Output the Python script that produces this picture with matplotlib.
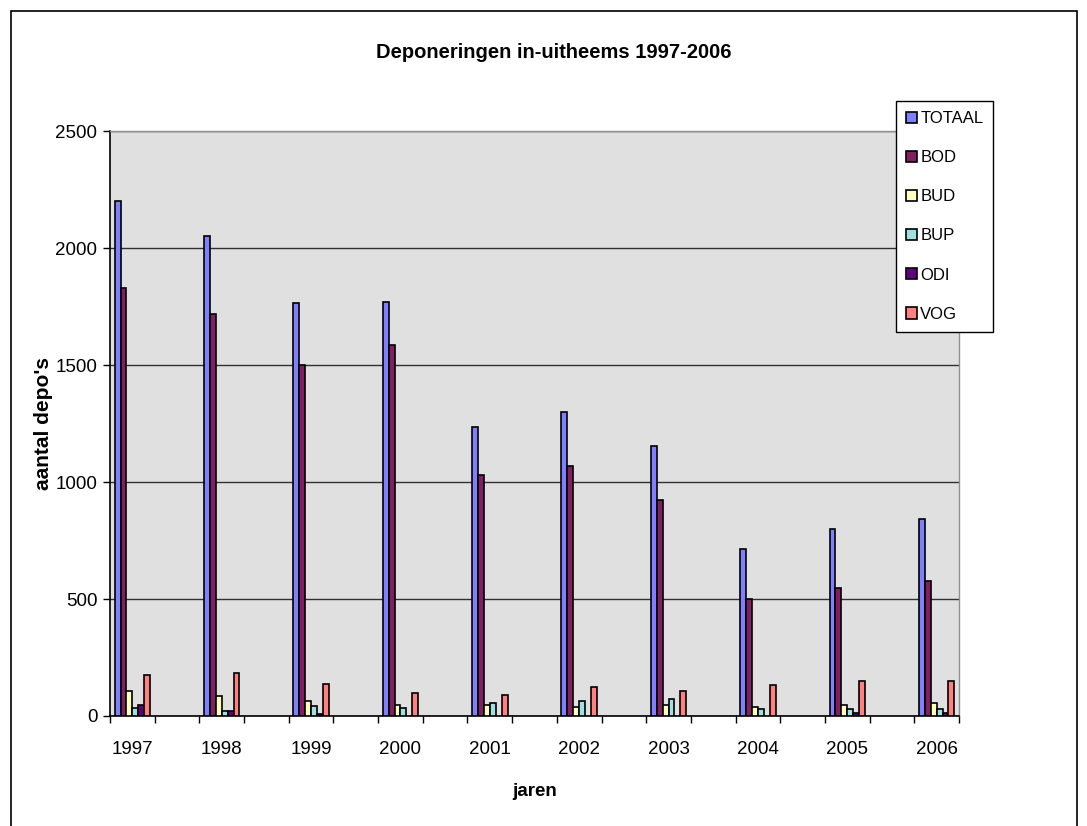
import numpy as np
import matplotlib
matplotlib.use("Agg")
import matplotlib.pyplot as plt
from matplotlib.patches import Rectangle

plt.rcParams['font.family'] = ['Liberation Sans', 'DejaVu Sans']

# data
years = ['1997', '1998', '1999', '2000', '2001', '2002', '2003', '2004', '2005', '2006']
series = ['TOTAAL', 'BOD', 'BUD', 'BUP', 'ODI', 'VOG']
totaal = [2200, 2050, 1765, 1770, 1235, 1300, 1155, 715, 800, 840]
bod = [1830, 1720, 1500, 1585, 1030, 1070, 925, 500, 545, 578]
bud = [108, 84, 65, 48, 48, 40, 48, 40, 48, 57]
bup = [33, 23, 41, 33, 57, 65, 74, 31, 31, 31]
odi = [48, 23, 8, 0, 0, 0, 0, 0, 13, 14]
vog = [176, 185, 135, 100, 91, 125, 108, 134, 151, 151]
colors = ['#8080FF', '#802060', '#FFFFC0', '#A0E0E0', '#600080', '#FF8080']

values = [totaal, bod, bud, bup, odi, vog]

fig = plt.figure(figsize=(10.87, 8.26), dpi=100)
ax = fig.add_axes([110/1087, 1-716/826, (959-110)/1087, (716-131)/826])
ax.set_facecolor('#E0E0E0')

# every year sits on every other slot (empty slot in between)
pos = np.arange(len(years)) * 2
bw = 0.132
for i, (name, vals, c) in enumerate(zip(series, values, colors)):
    v = np.array(vals, dtype=float)
    v[v == 0] = np.nan
    ax.bar(pos + (i - 2.5) * bw, v, bw, color=c, edgecolor='black',
           linewidth=1.2, label=name, zorder=3)

ax.set_xlim(-0.5, pos[-1] + 0.5)
ax.set_ylim(0, 2500)
ax.set_yticks(np.arange(0, 2501, 500))
ax.yaxis.grid(True, color='#303030', linewidth=1.0, zorder=1)
ax.set_xticks(np.arange(-0.5, pos[-1] + 1, 1))
ax.set_xticklabels([])
ax.set_xticks(pos, minor=True)
ax.set_xticklabels(years, minor=True)
ax.tick_params(axis='x', which='major', length=5, width=1, direction='out')
ax.tick_params(axis='x', which='minor', length=0, pad=18, labelsize=13.5)
ax.tick_params(axis='y', length=5, width=1, direction='out', labelsize=13.5, pad=4)

for s in ['left', 'bottom']:
    ax.spines[s].set_color('black')
    ax.spines[s].set_linewidth(1.2)
for s in ['top', 'right']:
    ax.spines[s].set_color('#909090')
    ax.spines[s].set_linewidth(1.0)

ax.set_xlabel('jaren', fontsize=13.5, fontweight='bold', labelpad=18)
ax.set_ylabel("aantal depo's", fontsize=15, fontweight='bold', labelpad=2)
fig.text(554/1087, 1-52/826, 'Deponeringen in-uitheems 1997-2006', fontsize=14.5,
         fontweight='bold', ha='center', va='center')

leg = ax.legend(loc='upper left', bbox_to_anchor=(896/1087, 1-101/826),
                bbox_transform=fig.transFigure, fontsize=12, frameon=True,
                fancybox=False, edgecolor='black', framealpha=1,
                handlelength=0.65, handleheight=0.65, handletextpad=0.2,
                labelspacing=1.45, borderpad=0.6, borderaxespad=0)
leg.get_frame().set_linewidth(1.0)

# outer chart border
fig.patches.append(Rectangle((11/1087, -0.01), (1077-11)/1087, 1.01 - 11/826,
                             transform=fig.transFigure, fill=False,
                             edgecolor='black', linewidth=1.2))

fig.savefig('out.png', dpi=100)
